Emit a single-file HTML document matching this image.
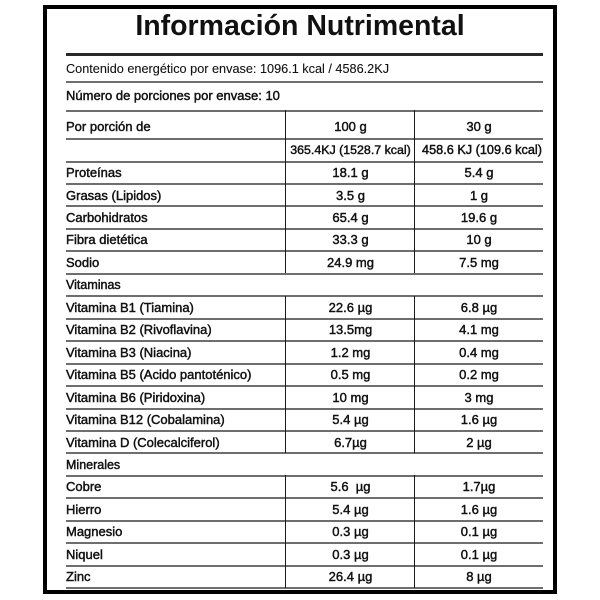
<!DOCTYPE html>
<html>
<head>
<meta charset="utf-8">
<style>
  html,body{margin:0;padding:0;background:#fff;}
  body{width:600px;height:600px;position:relative;overflow:hidden;font-family:"Liberation Sans",Arial,sans-serif;color:#111;}
  .frame{position:absolute;left:43px;top:5px;width:514px;height:589px;box-sizing:border-box;border:4px solid #000;}
  .title{position:absolute;left:0;width:600px;top:9px;text-align:center;font-weight:bold;font-size:28.5px;line-height:34px;color:#111;}
  .hl{position:absolute;left:66px;width:477px;height:2px;background:#6e6e6e;}
  .vl{position:absolute;width:1.6px;background:#1a1a1a;}
  .t{position:absolute;font-size:13px;white-space:nowrap;-webkit-text-stroke:0.45px #111;}
  .l{left:66px;}
  .c1{left:286px;width:129px;text-align:center;}
  .c2{left:415px;width:128px;text-align:center;}
  .reg{-webkit-text-stroke:0.1px #111;font-size:12.7px;}
</style>
</head>
<body>
<div class="frame"></div>
<div class="title">Información Nutrimental</div>

<div class="hl" style="top:53px;height:2.6px;background:#2a2a2a;"></div>
<div class="t l reg" style="top:60px;line-height:18px;">Contenido energético por envase: 1096.1 kcal / 4586.2KJ</div>
<div class="hl" style="top:80.5px;"></div>
<div class="t l" style="top:87px;line-height:18px;">Número de porciones por envase: 10</div>
<div class="hl" style="top:109.5px;"></div>
<div class="t l" style="top:118px;line-height:18px;">Por porción de</div>
<div class="t c1" style="top:118px;line-height:18px;">100 g</div>
<div class="t c2" style="top:118px;line-height:18px;">30 g</div>
<div class="hl" style="top:138px;"></div>
<div class="t c1" style="top:141px;line-height:18px;left:286px;font-size:12.4px;">365.4KJ (1528.7 kcal)</div>
<div class="t c2" style="top:141px;line-height:18px;left:418px;font-size:12.7px;">458.6 KJ (109.6 kcal)</div>
<div class="hl" style="top:160.5px;"></div>

<!-- rows -->
<div class="t l" style="top:164px;line-height:18px;">Proteínas</div>
<div class="t c1" style="top:164px;line-height:18px;">18.1 g</div>
<div class="t c2" style="top:164px;line-height:18px;">5.4 g</div>
<div class="hl" style="top:183px;"></div>

<div class="t l" style="top:186.5px;line-height:18px;">Grasas (Lipidos)</div>
<div class="t c1" style="top:186.5px;line-height:18px;">3.5 g</div>
<div class="t c2" style="top:186.5px;line-height:18px;">1 g</div>
<div class="hl" style="top:205.4px;"></div>

<div class="t l" style="top:209px;line-height:18px;">Carbohidratos</div>
<div class="t c1" style="top:209px;line-height:18px;">65.4 g</div>
<div class="t c2" style="top:209px;line-height:18px;">19.6 g</div>
<div class="hl" style="top:227.9px;"></div>

<div class="t l" style="top:231.4px;line-height:18px;">Fibra dietética</div>
<div class="t c1" style="top:231.4px;line-height:18px;">33.3 g</div>
<div class="t c2" style="top:231.4px;line-height:18px;">10 g</div>
<div class="hl" style="top:250.3px;"></div>

<div class="t l" style="top:253.9px;line-height:18px;">Sodio</div>
<div class="t c1" style="top:253.9px;line-height:18px;">24.9 mg</div>
<div class="t c2" style="top:253.9px;line-height:18px;">7.5 mg</div>
<div class="hl" style="top:272.8px;"></div>

<div class="t l" style="top:276.3px;line-height:18px;font-size:12.5px;">Vitaminas</div>
<div class="hl" style="top:295.2px;"></div>

<div class="t l" style="top:298.8px;line-height:18px;">Vitamina B1 (Tiamina)</div>
<div class="t c1" style="top:298.8px;line-height:18px;">22.6 µg</div>
<div class="t c2" style="top:298.8px;line-height:18px;">6.8 µg</div>
<div class="hl" style="top:317.7px;"></div>

<div class="t l" style="top:321.2px;line-height:18px;">Vitamina B2 (Rivoflavina)</div>
<div class="t c1" style="top:321.2px;line-height:18px;">13.5mg</div>
<div class="t c2" style="top:321.2px;line-height:18px;">4.1 mg</div>
<div class="hl" style="top:340.1px;"></div>

<div class="t l" style="top:343.7px;line-height:18px;">Vitamina B3 (Niacina)</div>
<div class="t c1" style="top:343.7px;line-height:18px;">1.2 mg</div>
<div class="t c2" style="top:343.7px;line-height:18px;">0.4 mg</div>
<div class="hl" style="top:362.6px;"></div>

<div class="t l" style="top:366.1px;line-height:18px;">Vitamina B5 (Acido pantoténico)</div>
<div class="t c1" style="top:366.1px;line-height:18px;">0.5 mg</div>
<div class="t c2" style="top:366.1px;line-height:18px;">0.2 mg</div>
<div class="hl" style="top:385px;"></div>

<div class="t l" style="top:388.6px;line-height:18px;">Vitamina B6 (Piridoxina)</div>
<div class="t c1" style="top:388.6px;line-height:18px;">10 mg</div>
<div class="t c2" style="top:388.6px;line-height:18px;">3 mg</div>
<div class="hl" style="top:407.5px;"></div>

<div class="t l" style="top:411px;line-height:18px;">Vitamina B12 (Cobalamina)</div>
<div class="t c1" style="top:411px;line-height:18px;">5.4 µg</div>
<div class="t c2" style="top:411px;line-height:18px;">1.6 µg</div>
<div class="hl" style="top:429.9px;"></div>

<div class="t l" style="top:433.5px;line-height:18px;">Vitamina D (Colecalciferol)</div>
<div class="t c1" style="top:433.5px;line-height:18px;">6.7µg</div>
<div class="t c2" style="top:433.5px;line-height:18px;">2 µg</div>
<div class="hl" style="top:452.4px;"></div>

<div class="t l" style="top:455.9px;line-height:18px;font-size:12.5px;">Minerales</div>
<div class="hl" style="top:474.8px;"></div>

<div class="t l" style="top:478.4px;line-height:18px;">Cobre</div>
<div class="t c1" style="top:478.4px;line-height:18px;">5.6&nbsp; µg</div>
<div class="t c2" style="top:478.4px;line-height:18px;">1.7µg</div>
<div class="hl" style="top:497.3px;"></div>

<div class="t l" style="top:500.8px;line-height:18px;">Hierro</div>
<div class="t c1" style="top:500.8px;line-height:18px;">5.4 µg</div>
<div class="t c2" style="top:500.8px;line-height:18px;">1.6 µg</div>
<div class="hl" style="top:519.7px;"></div>

<div class="t l" style="top:523.3px;line-height:18px;">Magnesio</div>
<div class="t c1" style="top:523.3px;line-height:18px;">0.3 µg</div>
<div class="t c2" style="top:523.3px;line-height:18px;">0.1 µg</div>
<div class="hl" style="top:542.2px;"></div>

<div class="t l" style="top:545.7px;line-height:18px;">Niquel</div>
<div class="t c1" style="top:545.7px;line-height:18px;">0.3 µg</div>
<div class="t c2" style="top:545.7px;line-height:18px;">0.1 µg</div>
<div class="hl" style="top:564.6px;"></div>

<div class="t l" style="top:568.2px;line-height:18px;">Zinc</div>
<div class="t c1" style="top:568.2px;line-height:18px;">26.4 µg</div>
<div class="t c2" style="top:568.2px;line-height:18px;">8 µg</div>
<div class="hl" style="top:587.1px;"></div>

<!-- vertical lines -->
<div class="vl" style="left:284.8px;top:110px;height:163px;"></div>
<div class="vl" style="left:413.8px;top:110px;height:163px;"></div>
<div class="vl" style="left:284.8px;top:295.5px;height:157.5px;"></div>
<div class="vl" style="left:413.8px;top:295.5px;height:157.5px;"></div>
<div class="vl" style="left:284.8px;top:475px;height:113px;"></div>
<div class="vl" style="left:413.8px;top:475px;height:113px;"></div>
</body>
</html>
